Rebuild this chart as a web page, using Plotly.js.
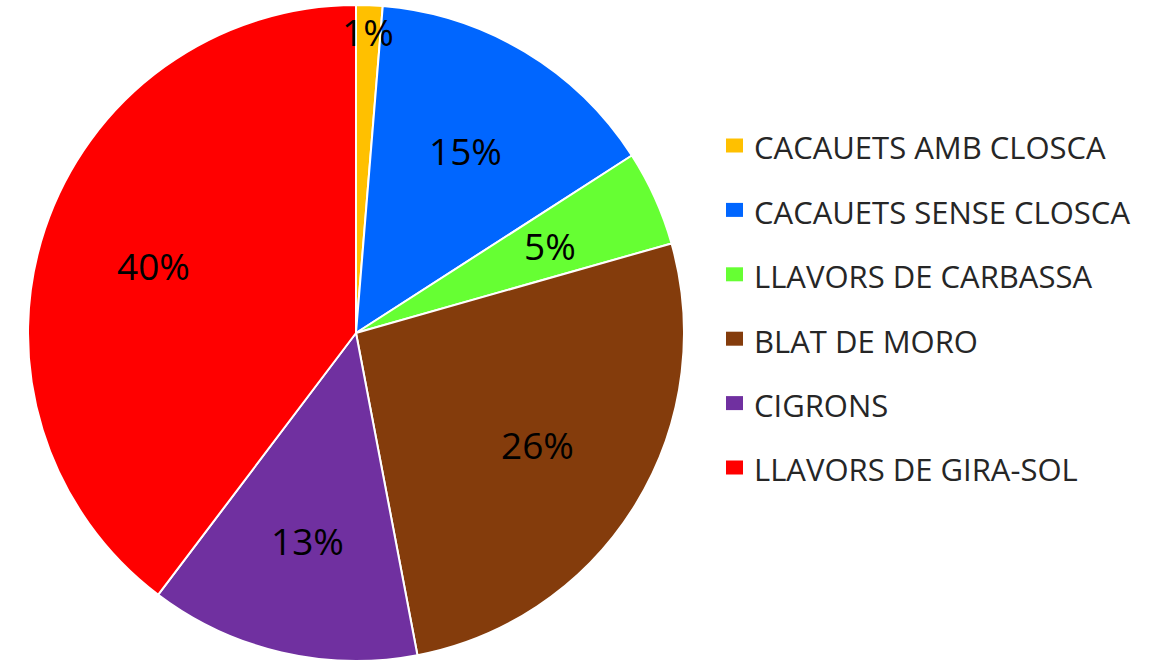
<!DOCTYPE html>
<html>
<head>
<meta charset="utf-8">
<script src="https://cdn.plot.ly/plotly-3.0.1.min.js"></script>
<style>html,body{margin:0;padding:0;background:#fff;}#chart{width:1155px;height:661px;}</style>
</head>
<body>
<div id="chart"></div>
<script>
const labels = ["CACAUETS AMB CLOSCA", "CACAUETS SENSE CLOSCA", "LLAVORS DE CARBASSA", "BLAT DE MORO", "CIGRONS", "LLAVORS DE GIRA-SOL"];
const values = [1.3, 14.6, 4.7, 26.4, 13.3, 39.7];
const colors = ["#FFC000", "#0066FF", "#66FF33", "#843C0C", "#7030A0", "#FF0000"];

const W = 1155, H = 661;
const R = 328, CX = 356, CY = H - R;   // pie geometry in pixels

const trace = {
  type: "pie",
  labels: labels,
  values: values,
  sort: false,
  direction: "clockwise",
  rotation: 0,
  marker: {colors: colors, line: {color: "#ffffff", width: 2}},
  textinfo: "none",
  domain: {x: [(CX - R) / W, (CX + R) / W], y: [0, (2 * R) / H]},
  showlegend: false,
  hoverinfo: "label+percent"
};

const annotations = [];
const shapes = [];

// percent labels placed at each slice's mid-angle
const total = values.reduce((a, b) => a + b, 0);
let cum = 0;
values.forEach((v, i) => {
  const frac = v / total;
  const mid = (cum + frac / 2) * 2 * Math.PI;
  cum += frac;
  const f = frac < 0.03 ? 0.92 : 0.65;
  const px = CX + f * R * Math.sin(mid);
  const py = CY - f * R * Math.cos(mid);
  annotations.push({xref: "paper", yref: "paper", x: px / W, y: 1 - py / H,
    xanchor: "center", yanchor: "middle", showarrow: false,
    text: Math.round(frac * 100) + "%",
    font: {family: "Open Sans, sans-serif", size: 37, color: "#000000"}});
});

// legend built from the arrays
const legX0 = 726, legTextX = 752, legY0 = 145.5, legStep = 64.4;
labels.forEach((lab, i) => {
  const y = legY0 + i * legStep;
  shapes.push({type: "rect", xref: "paper", yref: "paper",
    x0: legX0 / W, x1: (legX0 + 17) / W,
    y0: 1 - (y + 7) / H, y1: 1 - (y - 7) / H,
    fillcolor: colors[i], line: {width: 0}});
  annotations.push({xref: "paper", yref: "paper", x: legTextX / W, y: 1 - (y + 2) / H,
    xanchor: "left", yanchor: "middle", showarrow: false, text: lab,
    font: {family: "Open Sans, sans-serif", size: 31, color: "#262626"}});
});

const layout = {
  width: W, height: H,
  margin: {l: 0, r: 0, t: 0, b: 0},
  paper_bgcolor: "#ffffff",
  annotations: annotations,
  shapes: shapes,
  showlegend: false
};

Plotly.newPlot("chart", [trace], layout, {displayModeBar: false});
</script>
</body>
</html>
